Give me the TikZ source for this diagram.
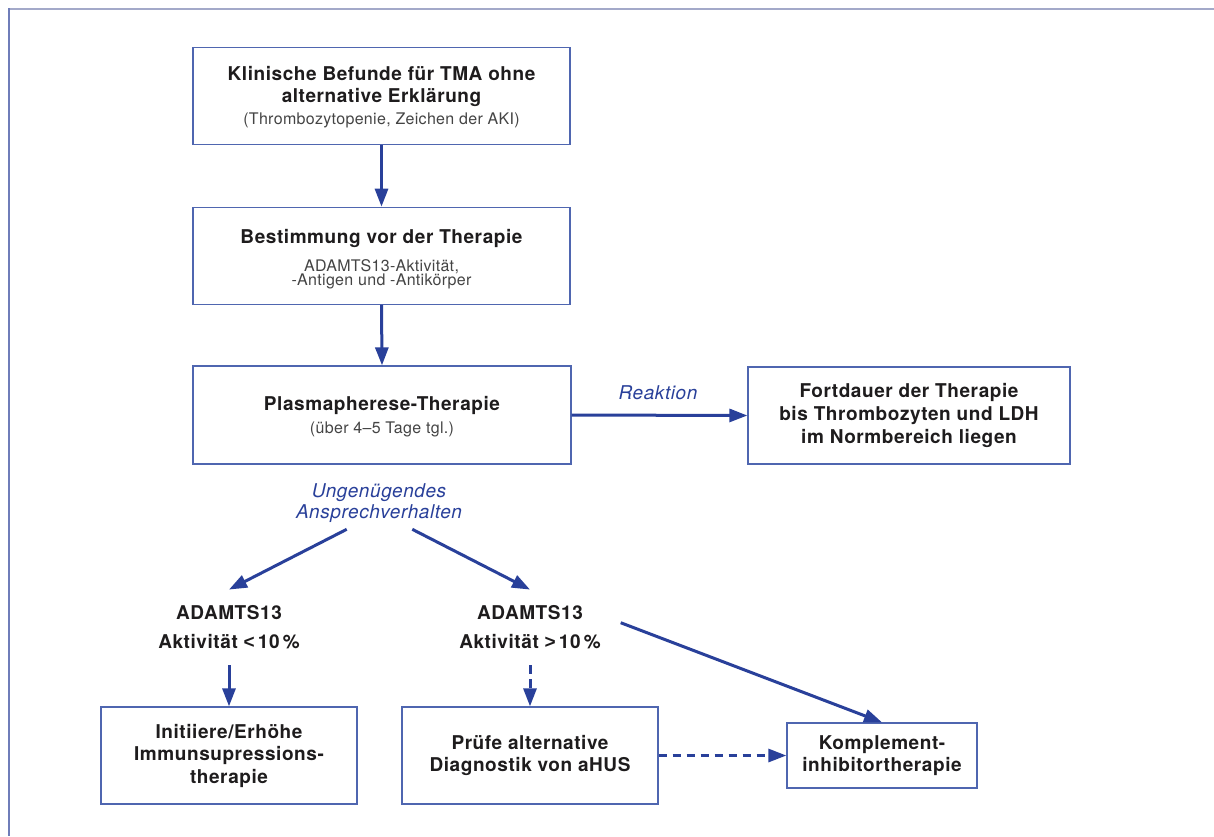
\documentclass[tikz,border=0pt]{standalone}
\usepackage{fontspec}
\setmainfont{TeX Gyre Heros}[LetterSpace=3]
\newfontfamily\subfam{TeX Gyre Heros}[LetterSpace=2]
\newfontfamily\symf{Liberation Sans}
\usetikzlibrary{arrows.meta}
\definecolor{arrowblue}{HTML}{29409A}
\definecolor{boxblue}{HTML}{4F66B0}
\definecolor{txtdark}{HTML}{1E1C1D}
\definecolor{txtsub}{HTML}{444444}
\definecolor{framegray}{HTML}{A3A9C9}
\definecolor{frameblue}{HTML}{6F7DB9}
\newcommand{\subf}{\subfam\mdseries\fontsize{16}{16}\selectfont\color{txtsub}}
\newcommand{\tup}[1]{\rule{0pt}{#1}}
\newcommand{\nols}{\lineskiplimit=-20pt\relax}
\newcommand{\bfsz}[1]{\bfseries\fontsize{19}{#1}\selectfont\nols}
\tikzset{
  box/.style={draw=boxblue, line width=1.3pt, align=center, inner sep=0pt, text=txtdark,
    font={\bfsz{22.5}}},
  conn/.style={draw=arrowblue, line width=3pt, -{Triangle[length=18pt,width=13pt]}},
  dconn/.style={conn, dash pattern=on 8.5pt off 5.5pt},
  branchlab/.style={text=arrowblue, font=\itshape\fontsize{19}{21.3}\selectfont, align=center, inner sep=0pt},
  result/.style={text=txtdark, font={\bfsz{29}}, align=center,
    inner xsep=0pt, inner ysep=16pt},
}
\begin{document}
\begin{tikzpicture}[x=1pt,y=-1pt]
\useasboundingbox (0,0) rectangle (1214,836);
\fill[white] (0,0) rectangle (1214,836);
\draw[framegray, line width=2pt] (8,9) -- (1214,9);
\draw[frameblue, line width=2pt] (9,8) -- (9,836);

\node[box, font={\bfsz{21.3}}, minimum width=377pt, minimum height=97pt] (b1) at (381.5,96)
  {\tup{16.9pt}Klinische Befunde für TMA ohne\\alternative Erklärung\\[1.4pt]{\subf (Thrombozytopenie, Zeichen der AKI)}};
\node[box, font={\bfsz{14.5}}, minimum width=377pt, minimum height=97pt] (b2) at (381.5,255.8)
  {\tup{21.5pt}Bestimmung vor der Therapie\\[13pt]{\subf ADAMTS13-Aktivität,}\\{\subf -Antigen und -Antikörper}};
\node[box, font={\bfsz{23.3}}, minimum width=378pt, minimum height=98pt] (b3) at (382,415)
  {\tup{17.7pt}Plasmapherese-Therapie\\{\subf (über 4–5 Tage tgl.)}};
\node[box, font={\bfsz{23.3}}, minimum width=322pt, minimum height=97pt] (b4) at (909,415.5)
  {Fortdauer der Therapie\\bis Thrombozyten und LDH\\im Normbereich liegen};

\node[branchlab, anchor=base] (rk) at (658,399.3) {Reaktion};
\node[branchlab] (ung) at (379,503) {Ungenügendes\\Ansprechverhalten};

\coordinate (u1) at (346.7,529.3);
\coordinate (u2) at (412.3,529.3);
\coordinate (u3) at (620.7,622.7);

\node[result] (a1) at (229,627.5) {ADAMTS13\\Aktivität {\symf<}\,10\,\%};
\node[result] (a2) at (530,627.5) {ADAMTS13\\Aktivität {\symf>}\,10\,\%};

\node[box, minimum width=256pt, minimum height=97pt] (b5) at (229,755.5)
  {Initiiere/Erhöhe\\Immunsupressions-\\therapie};
\node[box, minimum width=256pt, minimum height=97pt] (b6) at (530,755.5)
  {Prüfe alternative\\Diagnostik von aHUS};
\node[box, minimum width=190pt, minimum height=65pt] (b7) at (882,755.5)
  {Komplement-\\inhibitortherapie};

\draw[conn] (b1.south) -- (b2.north);
\draw[conn] (b2.south) -- (b3.north);
\draw[conn] (b3.east) -- (b4.west);
\draw[conn] (u1) -- (a1.north);
\draw[conn] (u2) -- (a2.north);
\draw[conn] (a1.south) -- (b5.north);
\draw[dconn] (a2.south) -- (b6.north);
\draw[conn] (u3) -- (b7.north);
\draw[dconn] (b6.east) -- (b7.west);
\end{tikzpicture}
\end{document}
